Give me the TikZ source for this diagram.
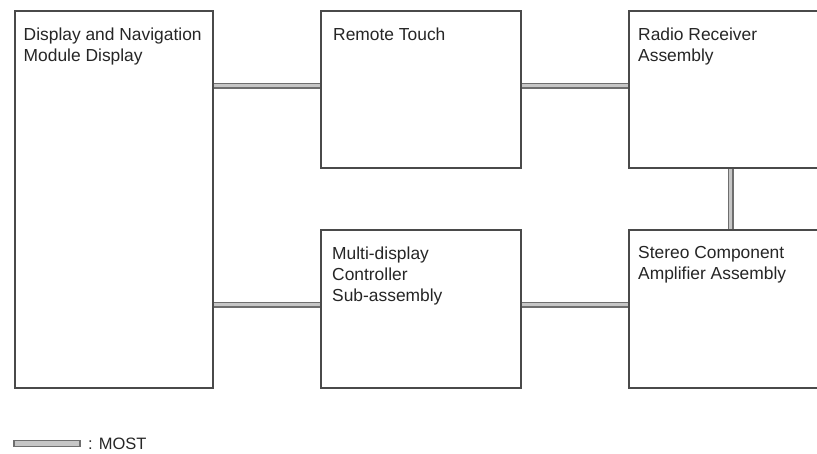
\documentclass[tikz,border=0pt]{standalone}
\usepackage{fontspec}
\setmainfont{Liberation Sans}
\definecolor{boxline}{HTML}{4A4A4A}
\definecolor{txtcol}{HTML}{262626}
\definecolor{mostout}{HTML}{6E6E6E}
\definecolor{mostin}{HTML}{C6C6C6}
\begin{document}
\begin{tikzpicture}[x=1pt,y=-1pt,
  blk/.style={draw=boxline, line width=1.8pt, fill=white, inner sep=0pt, anchor=north west},
  txt/.style={text=txtcol, anchor=north west, inner sep=0pt, align=left,
    font=\fontsize{17.4}{21}\selectfont},
  most/.style={draw=mostout, line width=1.4pt, double=mostin, double distance=3pt}]
\useasboundingbox (0,0) rectangle (817,454);
\begin{scope}
\clip (0,0) rectangle (817,454);
% boxes
\node[blk, minimum width=198, minimum height=377] (A) at (14,10) {};
\node[blk, minimum width=200, minimum height=157] (RT) at (320,10) {};
\node[blk, minimum width=204, minimum height=157] (RR) at (628,10) {};
\node[blk, minimum width=200, minimum height=158] (MD) at (320,229) {};
\node[blk, minimum width=204, minimum height=158] (SC) at (628,229) {};
% connectors
\coordinate (p1) at ([yshift=3.5pt]RT.west);
\coordinate (p2) at ([yshift=3.5pt]RR.west);
\coordinate (p3) at ([yshift=4pt]MD.west);
\coordinate (p4) at ([yshift=4pt]SC.west);
\draw[most] (A.east |- p1) -- (p1);
\draw[most] (RT.east |- p2) -- (p2);
\draw[most] (A.east |- p3) -- (p3);
\draw[most] (MD.east |- p4) -- (p4);
\draw[most] (RR.south) -- (RR.south |- SC.north);
\end{scope}
% texts
\node[txt] (At) at ([xshift=9.5pt,yshift=-17.5pt]A.north west) {Display and Navigation\\Module Display};
\node[txt] (RTt) at ([xshift=13pt,yshift=-17.5pt]RT.north west) {Remote Touch};
\node[txt] (RRt) at ([xshift=10pt,yshift=-17.5pt]RR.north west) {Radio Receiver\\Assembly};
\node[txt] (MDt) at ([xshift=12pt,yshift=-17.5pt]MD.north west) {Multi-display\\Controller\\Sub-assembly};
\node[txt] (SCt) at ([xshift=10pt,yshift=-17.5pt]SC.north west) {Stereo Component\\Amplifier Assembly};
% legend
\node[draw=mostout, line width=1.4pt, fill=mostin, minimum width=66, minimum height=6, inner sep=0pt] (L) at (47,443.5) {};
\node[txt, anchor=base west, font=\fontsize{16.5}{20}\selectfont] (Lt) at (88,449) {: MOST};
\end{tikzpicture}
\end{document}
